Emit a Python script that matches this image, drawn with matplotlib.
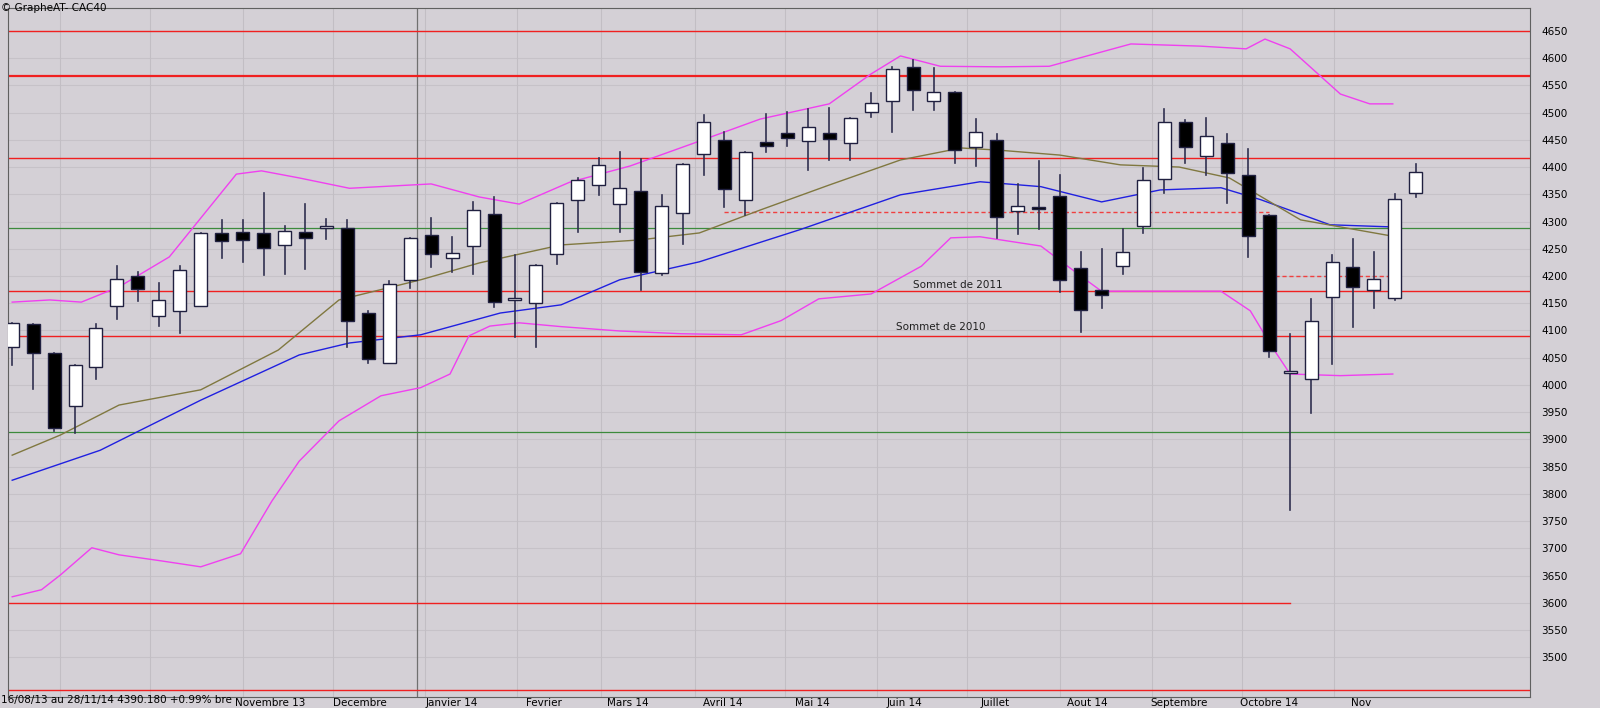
import matplotlib
matplotlib.use("Agg")
import matplotlib.pyplot as plt
from matplotlib.patches import Rectangle

# weekly CAC40 candles, 16/08/13 .. 28/11/14
opens = [4070, 4112, 4059, 3961, 4033, 4145, 4200, 4127, 4136, 4145,
         4279, 4281, 4279, 4257, 4281, 4288, 4288, 4132, 4040, 4193,
         4275, 4233, 4255, 4314, 4156, 4150, 4240, 4339, 4367, 4332,
         4356, 4205, 4316, 4424, 4450, 4339, 4446, 4462, 4448, 4462,
         4444, 4501, 4521, 4583, 4521, 4538, 4437, 4450, 4319, 4327,
         4347, 4215, 4174, 4218, 4292, 4378, 4483, 4420, 4444, 4385,
         4312, 4022, 4011, 4161, 4217, 4174, 4160, 4352]
closes = [4114, 4059, 3921, 4037, 4105, 4194, 4176, 4156, 4211, 4279,
          4264, 4266, 4251, 4283, 4270, 4290, 4117, 4048, 4185, 4270,
          4240, 4242, 4321, 4152, 4156, 4220, 4334, 4376, 4404, 4361,
          4207, 4328, 4405, 4483, 4360, 4428, 4439, 4453, 4473, 4451,
          4490, 4517, 4580, 4541, 4538, 4431, 4464, 4308, 4328, 4323,
          4193, 4138, 4165, 4244, 4376, 4483, 4437, 4457, 4389, 4273,
          4062, 4022, 4117, 4226, 4180, 4194, 4341, 4390]
highs = [4114, 4112, 4059, 4037, 4112, 4218, 4207, 4187, 4218, 4279,
         4303, 4303, 4352, 4292, 4332, 4305, 4303, 4136, 4191, 4270,
         4306, 4272, 4336, 4345, 4238, 4220, 4334, 4380, 4417, 4428,
         4415, 4349, 4405, 4495, 4464, 4428, 4497, 4501, 4506, 4508,
         4490, 4536, 4583, 4596, 4582, 4538, 4488, 4461, 4369, 4411,
         4385, 4244, 4250, 4286, 4398, 4506, 4486, 4490, 4461, 4433,
         4312, 4094, 4158, 4239, 4268, 4244, 4350, 4405]
lows = [4037, 3993, 3915, 3912, 4011, 4121, 4154, 4108, 4095, 4182,
        4233, 4226, 4202, 4204, 4213, 4268, 4070, 4040, 4040, 4178,
        4217, 4207, 4204, 4143, 4088, 4070, 4222, 4281, 4349, 4281,
        4174, 4202, 4259, 4385, 4327, 4312, 4428, 4439, 4394, 4413,
        4413, 4492, 4464, 4505, 4505, 4407, 4402, 4270, 4277, 4286,
        4171, 4097, 4141, 4204, 4279, 4352, 4407, 4385, 4334, 4235,
        4051, 3771, 3949, 4039, 4106, 4141, 4156, 4345]

# indicator lines (x in week units)
ma_idx = [0, 4.2, 9.0, 13.7, 16.1, 19.5, 23.3, 26.2, 29.0, 32.8, 37.6, 42.4,
          46.2, 49.1, 52.0, 54.8, 57.7, 59.6, 62.9, 65.9]
ma_blue = [3825, 3880, 3972, 4055, 4077, 4092, 4132, 4147, 4193, 4226, 4285, 4349,
           4373, 4364, 4336, 4358, 4362, 4340, 4294, 4290]
ol_idx = [0, 2.3, 5.1, 9.0, 12.7, 15.6, 19.5, 22.3, 26.2, 29.9, 32.8, 35.7, 39.0,
          42.4, 45.3, 47.1, 50.0, 52.9, 55.7, 58.1, 61.5, 65.9]
ol_line = [3871, 3908, 3963, 3991, 4064, 4156, 4193, 4224, 4257, 4266, 4279, 4321,
           4367, 4413, 4435, 4431, 4422, 4404, 4400, 4380, 4303, 4273]
bb_idx = [0, 1.8, 3.3, 5.1, 7.5, 10.7, 11.9, 13.7, 16.1, 20.0, 22.3, 24.2, 26.6,
          29.5, 32.4, 35.7, 39.0, 41.0, 42.4, 44.3, 47.1, 49.5, 53.4, 56.7, 58.9,
          59.8, 61.0, 63.4, 64.8, 65.9]
bb_up = [4152, 4156, 4152, 4180, 4235, 4387, 4393, 4380, 4361, 4369, 4345, 4332,
         4372, 4402, 4442, 4488, 4516, 4571, 4604, 4585, 4584, 4585, 4626, 4622,
         4617, 4635, 4617, 4534, 4516, 4516]
bb_lo_idx = [0, 1.4, 2.3, 3.8, 5.1, 7.1, 9.0, 10.9, 12.4, 13.7, 15.6, 17.6, 19.5,
             20.9, 21.8, 22.8, 24.2, 26.2, 29.0, 31.9, 34.8, 36.7, 38.5, 41.0, 43.4,
             44.8, 46.2, 49.1, 51.0, 52.0, 57.7, 59.1, 60.1, 61.0, 63.4, 65.9]
bb_lo = [3611, 3624, 3651, 3701, 3688, 3677, 3666, 3690, 3787, 3860, 3934, 3980,
         3995, 4020, 4090, 4108, 4114, 4107, 4099, 4094, 4092, 4118, 4158, 4167,
         4218, 4270, 4272, 4255, 4200, 4172, 4172, 4136, 4072, 4020, 4017, 4020]

# horizontal levels
red_levels = [4650, 4567, 4417, 4172, 4089, 3440]
green_levels = [4288, 3914]
months = ["Novembre 13", "Decembre", "Janvier 14", "Fevrier", "Mars 14", "Avril 14",
          "Mai 14", "Juin 14", "Juillet", "Aout 14", "Septembre", "Octobre 14", "Nov"]
month_starts = [11.0, 15.3, 19.7, 24.1, 28.1, 32.6, 36.9, 41.3, 45.6, 50.0, 54.4, 58.7, 63.1]
yticks = list(range(3500, 4651, 50))

bg = "#d4d0d6"
fig = plt.figure(figsize=(16, 7.08), dpi=100, facecolor=bg)
ax = fig.add_axes([8 / 1600, 11 / 708, 1522 / 1600, 689 / 708], facecolor=bg)
ax.set_xlim(-0.2, 72.45)
ax.set_ylim(3427, 4692)

for y in yticks:
    ax.axhline(y, color="#c6c2c8", lw=0.8, zorder=0)
for m in [2.3, 6.6] + month_starts:
    ax.axvline(m, color="#c2bec4", lw=0.8, zorder=0)
ax.axvline(19.3, color="#707070", lw=0.9, zorder=0)

for lv in red_levels:
    ax.axhline(lv, color="#f02020", lw=1.6 if lv == 4567 else 1.0, zorder=1)
ax.plot([-0.2, 61.0], [3600, 3600], color="#f02020", lw=1.0, zorder=1)
for lv in green_levels:
    ax.axhline(lv, color="#3c8a3c", lw=0.9, zorder=1)
ax.plot([34.0, 60.0], [4317, 4317], color="#f04040", lw=1, ls=(0, (3, 2)), zorder=1)
ax.plot([60.3, 66.2], [4200, 4200], color="#f04040", lw=1, ls=(0, (3, 2)), zorder=1)

ax.plot(ma_idx, ma_blue, color="#2020e0", lw=1.0, zorder=2)
ax.plot(ol_idx, ol_line, color="#807840", lw=1.0, zorder=2)
ax.plot(bb_idx, bb_up, color="#f040f0", lw=1.0, zorder=2)
ax.plot(bb_lo_idx, bb_lo, color="#f040f0", lw=1.0, zorder=2)

w = 0.62
for i, (o, h, l, c) in enumerate(zip(opens, highs, lows, closes)):
    ax.plot([i, i], [l, h], color="#303050", lw=1.2, zorder=3)
    face = "white" if c >= o else "black"
    lo, hi = min(o, c), max(o, c)
    ax.add_patch(Rectangle((i - w / 2, lo), w, max(hi - lo, 3), facecolor=face,
                           edgecolor="#202040", lw=1.0, zorder=4))

ax.text(43.0, 4183, "Sommet de 2011", fontsize=7.5, color="#202020", va="center")
ax.text(42.2, 4107, "Sommet de 2010", fontsize=7.5, color="#202020", va="center")

ax.yaxis.tick_right()
ax.set_yticks(yticks)
ax.set_yticklabels([str(v) for v in yticks], fontsize=7.5)
ax.tick_params(axis="y", length=0, pad=8)
ax.set_xticks([m + 1.3 for m in month_starts])
ax.set_xticklabels(months, fontsize=7.5)
ax.tick_params(axis="x", length=0, pad=1)
for s in ax.spines.values():
    s.set_color("#606060")
    s.set_linewidth(0.8)

fig.text(1 / 1600, 1 - 8 / 708, "\u00a9 GrapheAT- CAC40", fontsize=7.5, va="center")
fig.text(1 / 1600, 3 / 708, "16/08/13 au 28/11/14 4390.180 +0.99% bre", fontsize=7.5, va="bottom")

fig.savefig("out.png", dpi=100, facecolor=bg)
